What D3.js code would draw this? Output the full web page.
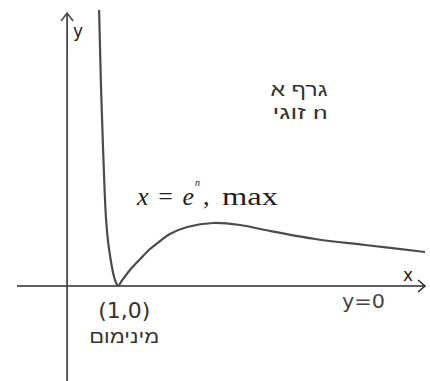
<!DOCTYPE html>
<html>
<head>
<meta charset="utf-8">
<script src="https://cdn.jsdelivr.net/npm/d3@7"></script>
<style>
  html, body { margin: 0; padding: 0; background: #fff; }
  svg { display: block; }
</style>
</head>
<body>
<script>
// Sketch of f(x) for even n: minimum at (1,0), maximum at x = e^n, decaying to y = 0
const curveX = [0.626, 0.665, 0.704, 0.733, 0.763, 0.802, 0.841, 0.880, 0.919, 0.958, 1.00,
                1.06, 1.23, 1.43, 1.62, 1.82, 2.01, 2.35, 2.86, 3.38, 3.87, 4.85, 5.83, 7.00];
const curveY = [5.52, 3.92, 2.72, 1.92, 1.32, 0.88, 0.60, 0.36, 0.18, 0.06, 0.00,
                0.09, 0.32, 0.54, 0.74, 0.90, 1.04, 1.18, 1.26, 1.22, 1.12, 0.94, 0.82, 0.68];

const minPoint = [1, 0];
const maxPoint = [2.86, 1.26];

const W = 430, H = 381;
const xDomain = [-0.98, 7.0];
const yDomain = [-1.9, 5.72];

const svg = d3.select("body").append("svg")
  .attr("width", W).attr("height", H);

const x = d3.scaleLinear().domain(xDomain).range([17, 425]);
const y = d3.scaleLinear().domain(yDomain).range([381, 0]);

// axes
const axisColor = "#2a2a2a";
svg.append("line")
  .attr("x1", x(xDomain[0])).attr("x2", x(xDomain[1]))
  .attr("y1", y(0)).attr("y2", y(0))
  .attr("stroke", axisColor).attr("stroke-width", 1.6);
svg.append("path")
  .attr("d", `M${x(xDomain[1]) - 7},${y(0) - 6} L${x(xDomain[1])},${y(0)} L${x(xDomain[1]) - 7},${y(0) + 6}`)
  .attr("fill", "none").attr("stroke", axisColor).attr("stroke-width", 1.6);

const yTop = 5.46;
svg.append("line")
  .attr("x1", x(0)).attr("x2", x(0))
  .attr("y1", y(yDomain[0])).attr("y2", y(yTop))
  .attr("stroke", "#4a4a4a").attr("stroke-width", 1.8);
svg.append("path")
  .attr("d", `M${x(0) - 6},${y(yTop) + 8} L${x(0)},${y(yTop)} L${x(0) + 6},${y(yTop) + 8}`)
  .attr("fill", "none").attr("stroke", "#4a4a4a").attr("stroke-width", 1.6);

// the curve
const pts = curveX.map((d, i) => [d, curveY[i]]);
const line = d3.line()
  .x(d => x(d[0])).y(d => y(d[1]))
  .curve(d3.curveCatmullRom.alpha(0.5));
svg.append("path")
  .datum(pts)
  .attr("d", line)
  .attr("fill", "none")
  .attr("stroke", "#4b4b4b")
  .attr("stroke-width", 2.2)
  .attr("stroke-linejoin", "round");

// labels
const sans = "'DejaVu Sans', Verdana, sans-serif";
const heb = "'Liberation Sans', Arial, 'DejaVu Sans', sans-serif";
const serif = "'Liberation Serif', 'Times New Roman', serif";

svg.append("text").text("y")
  .attr("x", x(0) + 6).attr("y", 37)
  .attr("font-family", sans).attr("font-size", 17).attr("fill", "#222");

svg.append("text").text("x")
  .attr("x", x(xDomain[1]) - 22).attr("y", y(0) - 5)
  .attr("font-family", sans).attr("font-size", 17).attr("fill", "#222");

svg.append("text").text("y=0")
  .attr("x", 342).attr("y", y(0) + 22)
  .attr("font-family", sans).attr("font-size", 19).attr("fill", "#444")
  .attr("textLength", 43).attr("lengthAdjust", "spacingAndGlyphs");

svg.append("text").text(`(${minPoint[0]},${minPoint[1]})`)
  .attr("x", x(minPoint[0]) + 6).attr("y", y(minPoint[1]) + 32)
  .attr("text-anchor", "middle")
  .attr("font-family", sans).attr("font-size", 21).attr("fill", "#333")
  .attr("textLength", 52).attr("lengthAdjust", "spacingAndGlyphs");

svg.append("text").text("מינימום")
  .attr("x", x(minPoint[0]) + 6).attr("y", y(minPoint[1]) + 57)
  .attr("text-anchor", "middle").attr("direction", "rtl")
  .attr("font-family", heb).attr("font-size", 18).attr("fill", "#333")
  .attr("textLength", 70).attr("lengthAdjust", "spacingAndGlyphs");

// label of the maximum: x = e^n, max
const labelBase = y(maxPoint[1]) - 18;
const lab = svg.append("g")
  .attr("font-family", serif).attr("fill", "#1e1e1e");
const eq = lab.append("text")
  .attr("x", 137).attr("y", labelBase)
  .attr("font-size", 26)
  .attr("textLength", 57).attr("lengthAdjust", "spacing");
eq.append("tspan").text("x").attr("font-style", "italic");
eq.append("tspan").text(" = ");
eq.append("tspan").text("e").attr("font-style", "italic");
lab.append("text").text("n")
  .attr("x", 195).attr("y", labelBase - 19)
  .attr("font-size", 10).attr("font-style", "italic");
lab.append("text").text(",")
  .attr("x", 203).attr("y", labelBase)
  .attr("font-size", 26);
lab.append("text").text("max")
  .attr("x", 222).attr("y", labelBase)
  .attr("font-size", 26)
  .attr("textLength", 56).attr("lengthAdjust", "spacingAndGlyphs");

svg.append("text").text("גרף א")
  .attr("x", 299).attr("y", 96)
  .attr("text-anchor", "middle").attr("direction", "rtl")
  .attr("font-family", heb).attr("font-size", 19).attr("fill", "#333")
  .attr("textLength", 57).attr("lengthAdjust", "spacingAndGlyphs");
svg.append("text").text("n זוגי")
  .attr("x", 300).attr("y", 119)
  .attr("text-anchor", "middle").attr("direction", "rtl")
  .attr("font-family", heb).attr("font-size", 19).attr("fill", "#333")
  .attr("textLength", 55).attr("lengthAdjust", "spacingAndGlyphs");
</script>
</body>
</html>
